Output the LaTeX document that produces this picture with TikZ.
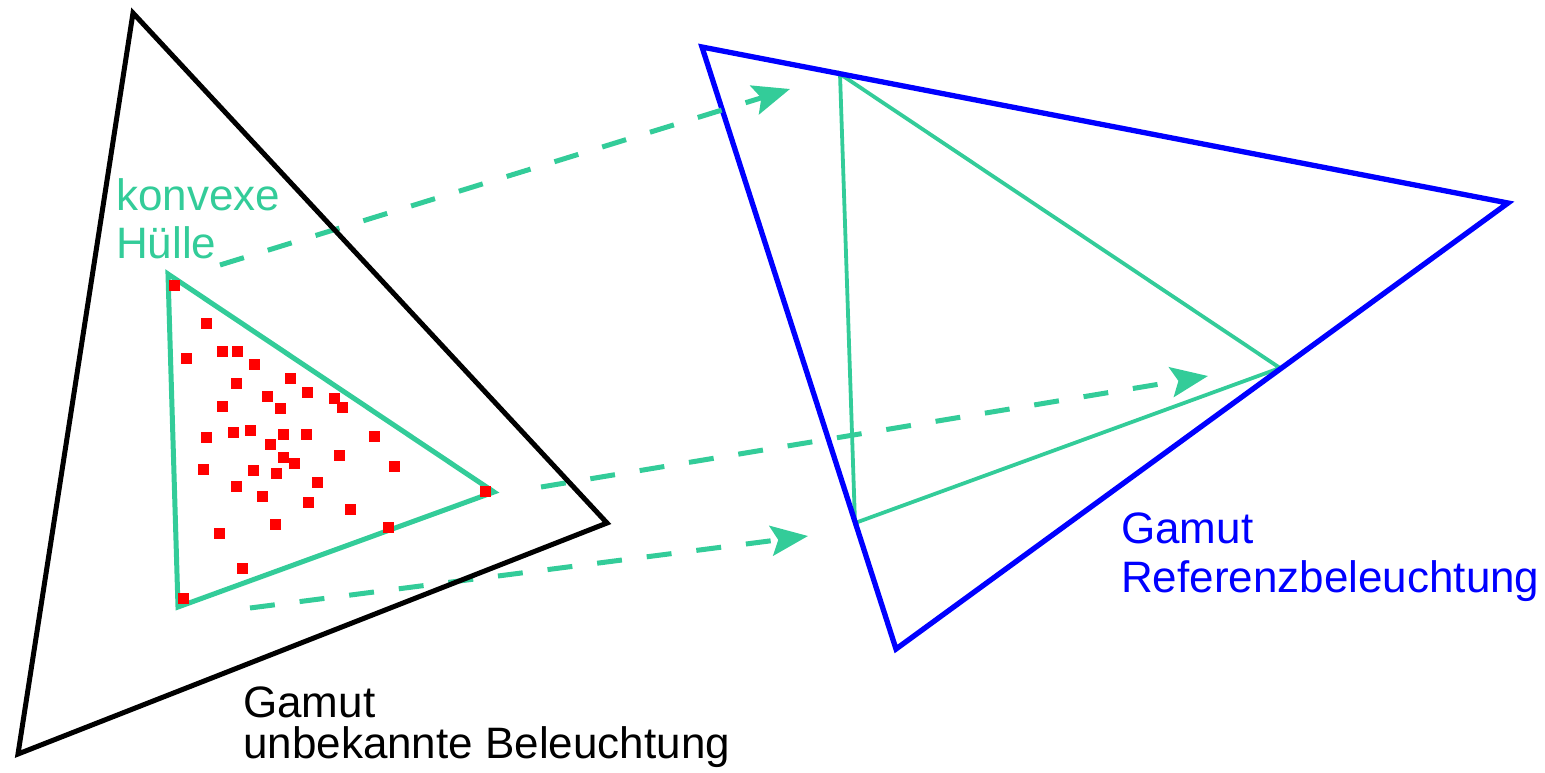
\documentclass[tikz,border=0pt]{standalone}
\usepackage{fontspec}
\setmainfont{Liberation Sans}
\usetikzlibrary{arrows.meta}
\definecolor{hullgreen}{RGB}{51,204,153}
\definecolor{refblue}{RGB}{0,0,255}
\definecolor{ptred}{RGB}{255,0,0}
\tikzset{
  gamutblack/.style={draw=black, line width=5pt, line join=miter},
  gamutblue/.style={draw=refblue, line width=5.3pt, line join=miter},
  hullline/.style={draw=hullgreen, line width=5pt, line join=miter},
  hullthin/.style={draw=hullgreen, line width=3.8pt, line join=miter},
  maparrow/.style={draw=hullgreen, line width=5pt, dash pattern=on 25pt off 25pt,
    -{Stealth[length=37pt, width=30pt, inset=7pt]}},
  pt/.style={rectangle, fill=ptred, inner sep=0pt, minimum size=11pt},
  lbl/.style={inner sep=0pt, align=left, font=\fontsize{44pt}{48pt}\selectfont}
}
\begin{document}
\begin{tikzpicture}[x=1pt, y=-1pt]
\useasboundingbox (0,0) rectangle (1545,772);
% black gamut
\coordinate (K1) at (133,13);
\coordinate (K2) at (607,523);
\coordinate (K3) at (18,754);
% hull
\coordinate (H1) at (168,274);
\coordinate (H2) at (494,492);
\coordinate (H3) at (178,607);
% blue gamut
\coordinate (B1) at (702,47);
\coordinate (B2) at (1508,203);
\coordinate (B3) at (896,649);
% mapped hull
\coordinate (G1) at (840,74);
\coordinate (G2) at (1280,368);
\coordinate (G3) at (855,523);
% arrow ends
\coordinate (a1s) at (220,265);
\coordinate (a1e) at (790,89);
\coordinate (a2s) at (541,487);
\coordinate (a2e) at (1208,376);
\coordinate (a3s) at (250,608);
\coordinate (a3e) at (808,536);

\draw[hullthin] (G1) -- (G2) -- (G3) -- cycle;
\draw[gamutblue] (B1) -- (B2) -- (B3) -- cycle;
\draw[hullline] (H1) -- (H2) -- (H3) -- cycle;

\draw[maparrow] (a1s) -- (a1e);
\draw[maparrow] (a2s) -- (a2e);
\draw[maparrow] (a3s) -- (a3e);

\draw[gamutblack] (K1) -- (K2) -- (K3) -- cycle;

\foreach \px/\py [count=\i] in {174.3/285, 206.3/323.3, 186.3/358.3, 222/351.3, 237.3/351.3,
  254.3/364.3, 290.3/378.3, 236/383.3, 307.3/392.3, 334.7/398, 342.3/407.7,
  267.3/396.3, 280.3/408.7, 222.3/406.3, 206.3/437.3, 233.3/432.3, 250.3/430,
  283.3/434.7, 306.3/434.7, 374.3/436.3, 270.3/444.3, 283.3/457.7, 294.3/463.3,
  339.3/455.7, 394.3/466.3, 203.3/469.3, 253.3/470, 276.3/473.3, 317.3/482.3,
  236.3/486.3, 262.3/496.3, 308.3/502.3, 350.3/509.3, 485.3/491.7, 388/527.3,
  275.3/524.3, 219.3/533.7, 242.3/568.3, 183.3/598.7}
  \node[pt] (d\i) at (\px,\py) {};

\node[lbl, text=hullgreen, anchor=base west] (konv) at (116,258) {konvexe\\Hülle};
\node[lbl, text=black, anchor=base west, font=\fontsize{44pt}{41pt}\selectfont] (unb) at (243,758) {Gamut\\unbekannte Beleuchtung};
\node[lbl, text=refblue, anchor=base west, font=\fontsize{44pt}{49pt}\selectfont] (ref) at (1121,592) {Gamut\\Referenzbeleuchtung};
\end{tikzpicture}
\end{document}
